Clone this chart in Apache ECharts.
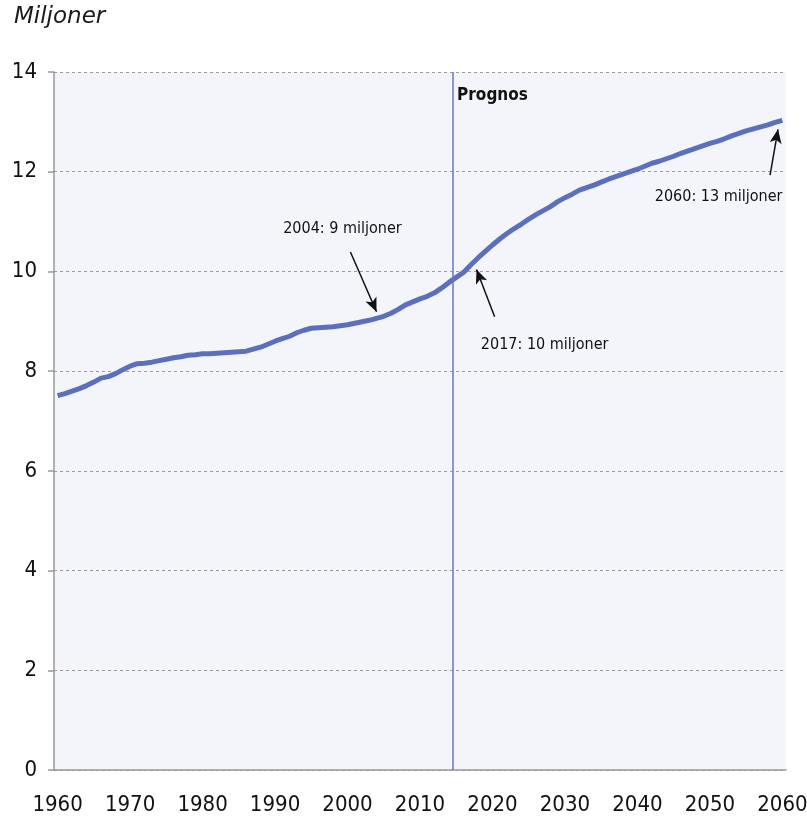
<!DOCTYPE html>
<html>
	<head>
		<meta charset="UTF-8">
		<title></title>
		<script type="text/javascript" src="https://cdn.jsdelivr.net/npm/echarts@6/dist/echarts.min.js"></script>
		<style>
			body { margin: 0; background: #fff; }
		</style>
	</head>
	<body>
		<div id="main" style="width: 807px;height: 821px;"></div>
		<script type="text/javascript">
			// folkmängd, miljoner, 1960-2060
			var years = [];
			for (var y = 1960; y <= 2060; y++) years.push(String(y));
			var population = [
				7.51, 7.55, 7.60, 7.65, 7.71, 7.78, 7.86, 7.89, 7.95, 8.03,
				8.10, 8.15, 8.16, 8.18, 8.21, 8.24, 8.27, 8.29, 8.32, 8.33,
				8.35, 8.35, 8.36, 8.37, 8.38, 8.39, 8.40, 8.44, 8.48, 8.54,
				8.60, 8.65, 8.70, 8.77, 8.82, 8.86, 8.87, 8.88, 8.89, 8.91,
				8.93, 8.96, 8.99, 9.02, 9.06, 9.10, 9.16, 9.24, 9.33, 9.39,
				9.45, 9.50, 9.57, 9.67, 9.78, 9.88, 9.98, 10.13, 10.27, 10.40,
				10.53, 10.65, 10.76, 10.86, 10.95, 11.05, 11.14, 11.22, 11.30, 11.40,
				11.48, 11.55, 11.63, 11.68, 11.73, 11.79, 11.85, 11.90, 11.95, 12.00,
				12.05, 12.11, 12.17, 12.21, 12.26, 12.31, 12.37, 12.42, 12.47, 12.52,
				12.57, 12.61, 12.66, 12.72, 12.77, 12.82, 12.86, 12.90, 12.94, 12.99,
				13.03
			];
			var yTicks = [0, 2, 4, 6, 8, 10, 12, 14];
			var prognosStart = 2015;

			// pilar: [från, till] i (år, miljoner)
			var arrows = [
				[[2000.9, 10.39], [2004.5, 9.19]],
				[[2020.8, 9.09], [2018.3, 10.04]],
				[[2058.8, 11.93], [2059.9, 12.85]]
			];
			var notes = [
				{ text: '2004: 9 miljoner', at: [1999.8, 10.85] },
				{ text: '2017: 10 miljoner', at: [2027.7, 8.52] },
				{ text: '2060: 13 miljoner', at: [2051.7, 11.49] }
			];

			var narrow = '"DejaVu Sans Condensed", "Liberation Sans Narrow", "Arial Narrow", sans-serif';
			var myChart = echarts.init(document.getElementById("main"));

			var option = {
				animation: false,
				title: {
					text: 'Miljoner',
					left: 9,
					top: 1,
					textStyle: {
						fontFamily: '"DejaVu Sans", Verdana, sans-serif',
						fontStyle: 'italic',
						fontWeight: 'normal',
						fontSize: 23,
						color: '#1a1a1a'
					}
				},
				grid: {
					left: 54,
					right: 21,
					top: 72,
					bottom: 51,
					outerBoundsMode: 'none',
					containLabel: false,
					show: true,
					backgroundColor: '#f4f5fa',
					borderWidth: 0
				},
				xAxis: [{
					type: 'category',
					data: years,
					boundaryGap: true,
					axisLine: { lineStyle: { color: '#999', width: 1.5 } },
					axisTick: { interval: 4, length: 8, lineStyle: { color: '#999', width: 1.5 } },
					axisLabel: {
						interval: 9,
						margin: 24,
						fontFamily: narrow,
						fontSize: 22,
						color: '#111'
					},
					splitLine: { show: false }
				}, {
					type: 'value',
					min: 1960,
					max: 2061,
					show: false
				}],
				yAxis: {
					type: 'value',
					min: yTicks[0],
					max: yTicks[yTicks.length - 1],
					interval: 2,
					axisLine: { show: true, lineStyle: { color: '#999', width: 1.5 } },
					axisTick: { show: true, length: 6, lineStyle: { color: '#999', width: 1.5 } },
					axisLabel: {
						margin: 17,
						fontFamily: narrow,
						fontSize: 22,
						color: '#111'
					},
					splitLine: { lineStyle: { type: [3, 3], color: '#9a9a9a', width: 1 } }
				},
				series: [{
					name: 'Folkmängd',
					type: 'line',
					xAxisIndex: 0,
					data: population,
					showSymbol: false,
					lineStyle: { color: '#5b6fbd', width: 5 },
					itemStyle: { color: '#5b6fbd' },
					silent: true
				}, {
					name: 'Noter',
					type: 'line',
					xAxisIndex: 1,
					data: [],
					silent: true,
					markLine: {
						silent: true,
						symbol: ['none', 'none'],
						label: { show: false },
						data: [{
							xAxis: prognosStart,
							lineStyle: { color: '#6478c0', width: 1.5, type: 'solid' }
						}].concat(arrows.map(function (a) {
							return [
								{ coord: a[0], symbol: 'none' },
								{ coord: a[1], symbol: 'arrow', symbolSize: [9, 14] }
							];
						})),
						lineStyle: { color: '#111', width: 1.5, type: 'solid' }
					},
					markPoint: {
						silent: true,
						symbol: 'circle',
						symbolSize: 0,
						data: notes.map(function (n) {
							return {
								coord: n.at,
								label: { formatter: n.text }
							};
						}).concat([{
							coord: [2020.5, 13.52],
							label: { formatter: 'Prognos', fontWeight: 'bold', fontSize: 17 }
						}]),
						label: {
							show: true,
							position: 'inside',
							fontFamily: narrow,
							fontSize: 16,
							color: '#111'
						}
					}
				}]
			};
			myChart.setOption(option);
		</script>
	</body>
</html>
